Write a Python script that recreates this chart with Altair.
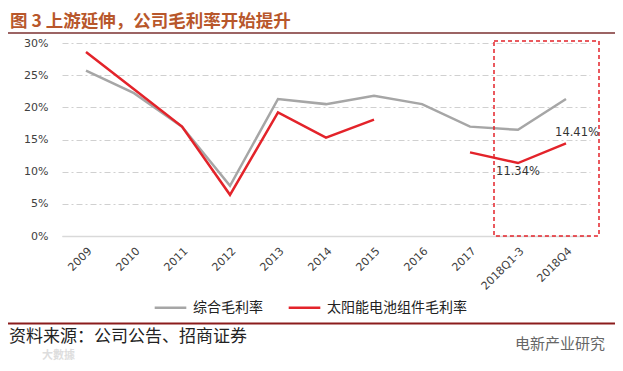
import altair as alt
import pandas as pd

categories = ["2009", "2010", "2011", "2012", "2013", "2014", "2015", "2016", "2017", "2018Q1-3", "2018Q4"]
gross_margin = [0.257, 0.222, 0.170, 0.078, 0.213, 0.205, 0.218, 0.205, 0.170, 0.165, 0.213]
solar_margin = [0.286, 0.228, 0.170, 0.064, 0.192, 0.153, 0.181, None, 0.130, 0.1134, 0.1441]
series_names = ["综合毛利率", "太阳能电池组件毛利率"]
series_colors = ["#A6A6A6", "#E3232A"]
y_ticks = [0, 0.05, 0.10, 0.15, 0.20, 0.25, 0.30]
box_categories = ["2018Q1-3", "2018Q4"]
box_range = [0.303, 0.0]

title_text = "图 3 上游延伸，公司毛利率开始提升"
source_text = "资料来源：公司公告、招商证券"
brand_text = "电新产业研究"
watermark_text = "大數據"

rows = []
for c, v in zip(categories, gross_margin):
    rows.append({"cat": c, "val": v, "series": series_names[0], "seg": "g"})
seg = 0
for c, v in zip(categories, solar_margin):
    if v is None:
        seg += 1
        continue
    rows.append({"cat": c, "val": v, "series": series_names[1], "seg": f"r{seg}"})
df = pd.DataFrame(rows)

W, H = 528, 193
CJK = "Noto Sans CJK SC"

x_enc = alt.X("cat:N", sort=categories, scale=alt.Scale(domain=categories),
              axis=alt.Axis(title=None, labelAngle=-45, labelAlign="right", labelBaseline="top",
                            labelPadding=9, ticks=False, domain=True, domainColor="#D9D9D9",
                            domainWidth=1.5, labelFont="DejaVu Sans", labelFontSize=11,
                            labelColor="#404040", grid=False, labelOverlap=False))
y_enc = alt.Y("val:Q", scale=alt.Scale(domain=[0, 0.3], nice=False),
              axis=alt.Axis(title=None, format=".0%", values=y_ticks, ticks=False, domain=False,
                            grid=True, gridColor="#D0D0D0", gridDash=[6, 3, 2, 3], gridWidth=1,
                            labelPadding=14, labelFont="DejaVu Sans", labelFontSize=11,
                            labelColor="#404040", labelOverlap=False))

lines = alt.Chart(df).mark_line(strokeWidth=2.5).encode(
    x=x_enc,
    y=y_enc,
    color=alt.Color("series:N", sort=series_names,
                    scale=alt.Scale(domain=series_names, range=series_colors),
                    legend=alt.Legend(title=None, orient="none", legendX=91, legendY=247,
                                      direction="horizontal", symbolType="stroke",
                                      symbolSize=1000, symbolStrokeWidth=2.5,
                                      labelFont=CJK, labelFontSize=14, labelColor="#222222",
                                      labelOffset=5, columnPadding=20)),
    detail="seg:N",
)

red_df = df[(df["series"] == series_names[1]) & (df["cat"].isin(box_categories))]
lab1 = alt.Chart(red_df[red_df["cat"] == "2018Q1-3"]).mark_text(
    dy=9, baseline="middle", align="center", font="DejaVu Sans", fontSize=11.5, color="#333333"
).encode(x=x_enc, y=y_enc, text=alt.Text("val:Q", format=".2%"))
lab2 = alt.Chart(red_df[red_df["cat"] == "2018Q4"]).mark_text(
    dx=11, dy=-10, baseline="middle", align="center", font="DejaVu Sans", fontSize=11.5, color="#333333"
).encode(x=x_enc, y=y_enc, text=alt.Text("val:Q", format=".2%"))

box_df = pd.DataFrame({"cat": [box_categories[0]], "c2": [box_categories[1]],
                       "val": [box_range[0]], "v2": [box_range[1]]})
box = alt.Chart(box_df).mark_rect(filled=False, stroke="#E3232A", strokeWidth=1.5,
                                  strokeDash=[4, 3], xOffset=-24, x2Offset=33).encode(
    x=x_enc, x2="c2:N", y=y_enc, y2="v2:Q")

def txt(text, x, y, size, color, weight="normal", font=CJK, align="left"):
    return alt.Chart(pd.DataFrame({"t": [text]})).mark_text(
        align=align, baseline="middle", font=font, fontSize=size, color=color, fontWeight=weight
    ).encode(x=alt.value(x), y=alt.value(y), text="t:N")

def hline(y, color, width):
    return alt.Chart(pd.DataFrame({"a": [0]})).mark_rule(color=color, strokeWidth=width).encode(
        x=alt.value(-54), x2=alt.value(553), y=alt.value(y))

title = txt(title_text, -52, -21.5, 17.5, "#B8572B", weight="bold")
title_line = hline(-10, "#9C6464", 2)
bottom_line = hline(280.5, "#8B1C1C", 2)
source = txt(source_text, -53, 294, 17, "#222222")
brand = txt(brand_text, 453, 301, 15, "#666666")
wm = txt(watermark_text, -20, 313, 11, "#DDDDDD", weight="bold")

chart = alt.layer(
    lines, box, lab1, lab2, title, title_line, bottom_line, source, brand, wm
).properties(
    width=W, height=H,
    autosize=alt.AutoSizeParams(type="none"),
    padding={"left": 54, "top": 35, "right": 25, "bottom": 127},
    background="white",
).configure_view(stroke=None)

chart.save("out.html", embed_options={"renderer": "svg", "actions": False})
